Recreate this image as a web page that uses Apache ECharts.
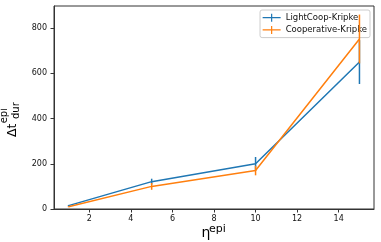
<!DOCTYPE html>
<html>
<head>
<meta charset="utf-8">
<script src="https://cdn.jsdelivr.net/npm/echarts@6/dist/echarts.min.js"></script>
<style>html,body{margin:0;padding:0;background:#fff;}#c{width:381px;height:242px;}</style>
</head>
<body>
<div id="c"></div>
<script>
const xValues = [1, 5, 10, 15];
const lightCoop = [15, 121, 200, 650];
const lightCoopErr = [3, 13, 30, 97];
const cooperative = [10, 100, 170, 752];
const cooperativeErr = [2, 15, 21, 108];
const xTicks = [2, 4, 6, 8, 10, 12, 14];
const yTicks = [0, 200, 400, 600, 800];
const seriesNames = ['LightCoop-Kripke', 'Cooperative-Kripke'];
const colors = ['#1f77b4', '#ff7f0e'];

const FONT = 'DejaVu Sans';
const chart = echarts.init(document.getElementById('c'), null, {renderer: 'canvas'});

function rows(vals, errs) { return xValues.map((x, i) => [x, vals[i], errs[i]]); }

function renderErr(params, api) {
  const x = api.value(0), y = api.value(1), e = api.value(2);
  const t = api.coord([x, y + e]);
  const b = api.coord([x, y - e]);
  return {type: 'line', shape: {x1: t[0], y1: t[1], x2: b[0], y2: b[1]},
    style: {stroke: api.visual('color'), lineWidth: 1.5}};
}

const allData = [[lightCoop, lightCoopErr], [cooperative, cooperativeErr]];
const series = [];
allData.forEach((d, i) => {
  series.push({
    name: seriesNames[i], type: 'line', data: rows(d[0], d[1]).map(r => [r[0], r[1]]),
    showSymbol: false, symbol: 'none', color: colors[i], z: 2 + i * 2,
    lineStyle: {width: 1.5, color: colors[i]}, animation: false
  });
  series.push({
    name: seriesNames[i], type: 'custom', data: rows(d[0], d[1]), renderItem: renderErr,
    encode: {x: 0, y: 1}, itemStyle: {color: colors[i]}, color: colors[i], z: 3 + i * 2, animation: false
  });
});

const icon = 'path://M0,3.4h18v1.2h-18z M8.4,0h1.2v8h-1.2z';

chart.setOption({
  animation: false,
  grid: {left: 54, right: 7, top: 6, bottom: 33, show: true, borderColor: '#333', borderWidth: 1},
  xAxis: {
    type: 'value', min: 0.3, max: 15.7,
    axisLine: {show: true, lineStyle: {color: '#333', width: 1}},
    axisTick: {show: true, length: 3.5, customValues: xTicks, lineStyle: {color: '#333'}},
    axisLabel: {customValues: xTicks, fontFamily: FONT, fontSize: 8, color: '#111', margin: 5.5},
    splitLine: {show: false}
  },
  yAxis: {
    type: 'value', min: 0, max: 898,
    axisLine: {show: true, lineStyle: {color: '#333', width: 1}},
    axisTick: {show: true, length: 3.5, customValues: yTicks, lineStyle: {color: '#333'}},
    axisLabel: {customValues: yTicks, fontFamily: FONT, fontSize: 8, color: '#111', margin: 7},
    splitLine: {show: false}
  },
  legend: {
    orient: 'vertical', right: 11, top: 10,
    padding: [1.5, 3, 1.5, 2.6], itemGap: 0, itemWidth: 18, itemHeight: 8, itemTextGap: 7,
    backgroundColor: 'rgba(255,255,255,0.85)', borderColor: '#ccc', borderWidth: 1, borderRadius: 2,
    textStyle: {fontFamily: FONT, fontSize: 8.5, color: '#111', lineHeight: 12.3},
    data: seriesNames.map((n, i) => ({name: n, icon: icon, itemStyle: {color: colors[i]}}))
  },
  graphic: [
    {type: 'text', x: 201.5, y: 233.5, style: {text: '\u03b7', font: '14px "DejaVu Sans"', fill: '#000', align: 'left', verticalAlign: 'middle'}},
    {type: 'text', x: 209, y: 229.2, style: {text: 'epi', font: '11px "DejaVu Sans"', fill: '#000', align: 'left', verticalAlign: 'middle'}},
    {type: 'text', x: 12.9, y: 137, rotation: Math.PI / 2, style: {text: '\u0394t', font: '12.5px "DejaVu Sans"', fill: '#000', align: 'left', verticalAlign: 'middle'}},
    {type: 'text', x: 4.2, y: 123.3, rotation: Math.PI / 2, style: {text: 'epi', font: '10px "DejaVu Sans"', fill: '#000', align: 'left', verticalAlign: 'middle'}},
    {type: 'text', x: 16, y: 119, rotation: Math.PI / 2, style: {text: 'dur', font: '10px "DejaVu Sans"', fill: '#000', align: 'left', verticalAlign: 'middle'}}
  ],
  series: series
});
</script>
</body>
</html>
